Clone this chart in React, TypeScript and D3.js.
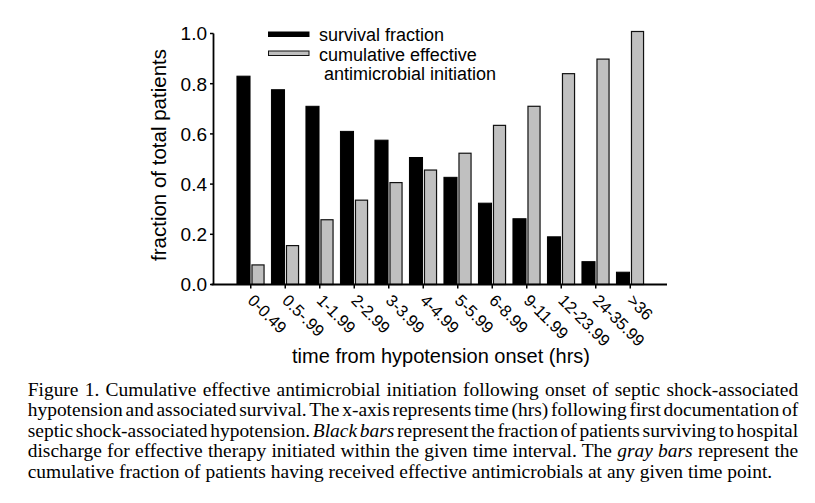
import React, { useLayoutEffect, useRef, useState } from "react";
import * as d3 from "d3";

const categories = ["0-0.49", "0.5-.99", "1-1.99", "2-2.99", "3-3.99", "4-4.99", "5-5.99", "6-8.99", "9-11.99", "12-23.99", "24-35.99", ">36"];
const survivalFraction = [0.83, 0.776, 0.71, 0.61, 0.575, 0.506, 0.427, 0.324, 0.262, 0.19, 0.091, 0.049];
const cumulativeInitiation = [0.078, 0.155, 0.258, 0.336, 0.406, 0.456, 0.523, 0.634, 0.71, 0.84, 0.898, 1.008];
const seriesKeys = ["survival", "cumulative"];
const yTicks = [0, 0.2, 0.4, 0.6, 0.8, 1.0];
const legendLines = ["survival fraction", "cumulative effective", " antimicrobial initiation"];
const xTitle = "time from hypotension onset (hrs)";
const yTitle = "fraction of total patients";

type Seg = { t: string; i?: boolean };
const captionLines: Seg[][] = [
  [{ t: "Figure 1. Cumulative effective antimicrobial initiation following onset of septic shock-associated" }],
  [{ t: "hypotension and associated survival. The x-axis represents time (hrs) following first documentation of" }],
  [{ t: "septic shock-associated hypotension. " }, { t: "Black bars", i: true }, { t: " represent the fraction of patients surviving to hospital" }],
  [{ t: "discharge for effective therapy initiated within the given time interval. The " }, { t: "gray bars", i: true }, { t: " represent the" }],
  [{ t: "cumulative fraction of patients having received effective antimicrobials at any given time point." }],
];

const SANS = "'Liberation Sans', Arial, Helvetica, sans-serif";
const SERIF = "'Liberation Serif', 'Times New Roman', serif";

export default function App() {
  const W = 815, H = 503;
  const y0 = 284.5, y1 = 33.5;
  const axisX = 213.5, axisEnd = 667;
  const y = d3.scaleLinear().domain([0, 1]).range([y0, y1]);
  const x = d3.scaleBand<string>().domain(categories).range([233.5, 647.5]).paddingInner(0.2).paddingOuter(0.1);
  const xs = d3.scaleBand<string>().domain(seriesKeys).range([0, x.bandwidth()]).paddingInner(0.1);
  const fmt = d3.format(".1f");

  const capRefs = useRef<(SVGTextElement | null)[]>([]);
  const [cap, setCap] = useState<{ s: number; ws: number[] }>({ s: 1, ws: [0, 0, 0, 0, 0] });
  const capX = 27.7, capFull = 771, capLast = 745;
  const capBase = [395.7, 416.2, 436.7, 457.2, 477.7];

  useLayoutEffect(() => {
    const els = capRefs.current;
    const nat = els.map((e) => (e ? e.getComputedTextLength() : 0));
    const s = capLast / nat[4];
    const ws = captionLines.map((segs, i) => {
      if (i === 4) return 0;
      const txt = segs.map((g) => g.t).join("");
      const spaces = (txt.match(/ /g) || []).length;
      return (capFull / s - nat[i]) / spaces;
    });
    setCap({ s, ws });
  }, []);

  const data = categories.map((c, i) => ({ c, survival: survivalFraction[i], cumulative: cumulativeInitiation[i] }));

  return (
    <svg width={W} height={H} style={{ position: "absolute", left: 0, top: 0, background: "#fff" }}>
      <rect x={0} y={0} width={W} height={H} fill="#fff" />
      {/* bars */}
      {data.map((d) => (
        <g key={d.c} transform={`translate(${x(d.c)},0)`}>
          <rect x={xs("survival")} y={y(d.survival)} width={xs.bandwidth()} height={y0 - y(d.survival)} fill="#000" stroke="#000" strokeWidth={1} />
          <rect x={xs("cumulative")! + 0.5} y={y(d.cumulative)} width={xs.bandwidth() - 1} height={y0 - y(d.cumulative)} fill="#c0c0c0" stroke="#111" strokeWidth={1.2} />
        </g>
      ))}
      {/* y axis */}
      <line x1={axisX} x2={axisX} y1={y1} y2={y0} stroke="#000" strokeWidth={1.8} />
      {yTicks.map((t) => (
        <g key={t}>
          <line x1={axisX - 3.5} x2={axisX} y1={y(t)} y2={y(t)} stroke="#000" strokeWidth={1.5} />
          <text x={207} y={y(t)} dy="0.36em" textAnchor="end" fontFamily={SANS} fontSize={19} fill="#000">{fmt(t)}</text>
        </g>
      ))}
      {/* x axis */}
      <line x1={211.5} x2={axisEnd} y1={y0} y2={y0} stroke="#000" strokeWidth={2} />
      {categories.map((c) => {
        const cx = x(c)! + x.bandwidth() / 2;
        return (
          <g key={c}>
            <line x1={cx} x2={cx} y1={y0} y2={y0 + 4} stroke="#000" strokeWidth={1.5} />
            <text transform={`translate(${cx - 4},${y0 + 17}) rotate(45)`} fontFamily={SANS} fontSize={16.5} fill="#000">{c}</text>
          </g>
        );
      })}
      <text x={441} y={363} textAnchor="middle" fontFamily={SANS} fontSize={20} fill="#000">{xTitle}</text>
      <text transform={`translate(166,155) rotate(-90)`} textAnchor="middle" fontFamily={SANS} fontSize={20.5} fill="#000">{yTitle}</text>
      {/* legend */}
      <rect x={268.5} y={32} width={40.5} height={4.5} fill="#000" stroke="#000" strokeWidth={1} />
      <rect x={268.5} y={51} width={40.5} height={4.5} fill="#c0c0c0" stroke="#111" strokeWidth={1} />
      <text x={319} y={41} fontFamily={SANS} fontSize={18} fill="#000">{legendLines[0]}</text>
      <text x={319} y={60.5} fontFamily={SANS} fontSize={18} fill="#000">{legendLines[1]}</text>
      <text x={319} y={80} fontFamily={SANS} fontSize={18} fill="#000" style={{ whiteSpace: "pre" }}>{legendLines[2]}</text>
      {/* caption */}
      <g transform={`translate(${capX},0) scale(${cap.s},1)`}>
        {captionLines.map((segs, i) => (
          <text
            key={i}
            ref={(el) => { capRefs.current[i] = el; }}
            x={0}
            y={capBase[i]}
            fontFamily={SERIF}
            fontSize={18}
            fill="#000"
            style={{ wordSpacing: `${cap.ws[i]}px`, whiteSpace: "pre" }}
          >
            {segs.map((g, k) => (
              <tspan key={k} fontStyle={g.i ? "italic" : "normal"}>{g.t}</tspan>
            ))}
          </text>
        ))}
      </g>
    </svg>
  );
}
